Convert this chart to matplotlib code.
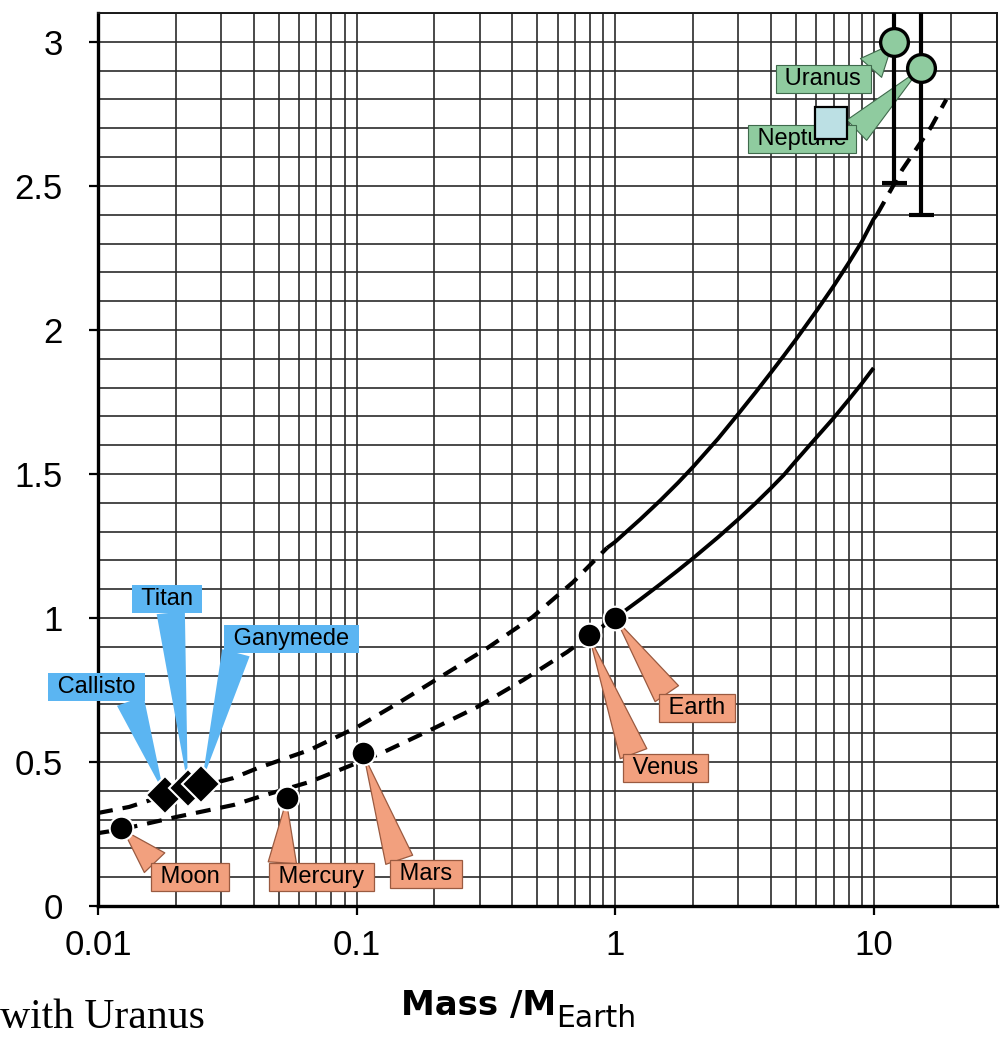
import matplotlib
matplotlib.use("Agg")
import matplotlib.pyplot as plt
from matplotlib.ticker import FixedLocator, MultipleLocator, NullFormatter

# rocky bodies: mass (Earth masses) and size (Earth units)
rocky_names = ["Moon", "Mercury", "Mars", "Venus", "Earth"]
rocky_mass = [0.0123, 0.0536, 0.106, 0.79, 1.0]
rocky_size = [0.271, 0.375, 0.531, 0.941, 1.0]

# icy moons
icy_names = ["Callisto", "Titan", "Ganymede"]
icy_mass = [0.0181, 0.0223, 0.0251]
icy_size = [0.385, 0.41, 0.424]

# ice giants with uncertainty
giant_names = ["Uranus", "Neptune"]
giant_mass = [12.0, 15.3]
giant_size = [3.0, 2.91]
giant_err = [0.49, 0.51]

# extra point
box_mass = [6.84]
box_size = [2.72]

# upper model curve
upper_dash_x = [0.01, 0.0132, 0.018, 0.025, 0.0333, 0.0415, 0.051, 0.066, 0.082, 0.101,
                0.147, 0.211, 0.321, 0.479, 0.689, 0.93]
upper_dash_y = [0.323, 0.344, 0.383, 0.415, 0.444, 0.479, 0.507, 0.542, 0.583, 0.622,
                0.708, 0.795, 0.896, 1.003, 1.125, 1.243]
upper_solid_x = [0.93, 1, 1.25, 1.5, 1.75, 2, 2.5, 3, 3.5, 4, 4.5, 5, 6, 7, 8, 9, 10, 10.3]
upper_solid_y = [1.243, 1.264, 1.342, 1.409, 1.469, 1.524, 1.622, 1.709, 1.784, 1.851,
                 1.911, 1.966, 2.065, 2.152, 2.232, 2.306, 2.385, 2.40]
upper_tail_x = [10.3, 12.9, 16.7, 19.1]
upper_tail_y = [2.40, 2.556, 2.705, 2.80]

# lower model curve
lower_dash_x = [0.01, 0.0123, 0.0203, 0.0335, 0.042, 0.066, 0.082, 0.125, 0.193, 0.293,
                0.442, 0.653, 0.80, 1.0]
lower_dash_y = [0.253, 0.266, 0.310, 0.351, 0.379, 0.431, 0.465, 0.531, 0.611, 0.691,
                0.785, 0.882, 0.941, 1.0]
lower_solid_x = [1, 1.25, 1.5, 1.75, 2, 2.5, 3, 3.5, 4, 4.5, 5, 6, 7, 8, 9, 10]
lower_solid_y = [1.0, 1.064, 1.118, 1.165, 1.207, 1.28, 1.343, 1.399, 1.45, 1.497, 1.545,
                 1.626, 1.694, 1.757, 1.814, 1.868]

x_ticks = [0.01, 0.1, 1, 10]
x_labels = ["0.01", "0.1", "1", "10"]
y_ticks = [0, 0.5, 1, 1.5, 2, 2.5, 3]
y_labels = ["0", "0.5", "1", "1.5", "2", "2.5", "3"]

SALMON, SALMON_EC = "#F2A07E", "#9A5A40"
BLUE = "#5BB5F2"
GREEN, GREEN_EC = "#8FCB9F", "#3F6A4C"

fig = plt.figure(figsize=(10.04, 10.37), dpi=100)
ax = fig.add_axes([0.0976, 0.1263, 0.8954, 0.8611])
ax.set_xscale("log")
ax.set_xlim(0.01, 30)
ax.set_ylim(0, 3.1)

# grid
ax.set_axisbelow(True)
ax.xaxis.set_major_locator(FixedLocator(x_ticks))
ax.xaxis.set_minor_locator(FixedLocator([m * d for d in (0.01, 0.1, 1, 10) for m in range(2, 10)]))
ax.xaxis.set_minor_formatter(NullFormatter())
ax.yaxis.set_major_locator(FixedLocator(y_ticks))
ax.yaxis.set_minor_locator(MultipleLocator(0.1))
ax.set_xticklabels(x_labels)
ax.set_yticklabels(y_labels)
ax.grid(which="both", color="#2a2a2a", lw=1.2)

for lab in ax.get_xticklabels() + ax.get_yticklabels():
    lab.set_family("Liberation Sans")
    lab.set_fontsize(25)
ax.tick_params(which="major", length=6.5, width=1.6, color="black")
ax.tick_params(which="minor", length=0)
ax.tick_params(axis="x", pad=10)
ax.tick_params(axis="y", pad=19)

for side in ("left", "bottom"):
    ax.spines[side].set_linewidth(2.4)
    ax.spines[side].set_color("black")
for side in ("top", "right"):
    ax.spines[side].set_linewidth(1.4)
    ax.spines[side].set_color("#1a1a1a")

# model curves
dash = (0, (3.6, 2.4))
ax.plot(upper_dash_x, upper_dash_y, color="black", lw=3, ls=dash, zorder=2)
ax.plot(upper_solid_x, upper_solid_y, color="black", lw=2.8, zorder=2, solid_capstyle="butt")
ax.plot(upper_tail_x, upper_tail_y, color="black", lw=3, ls=dash, zorder=2)
ax.plot(lower_dash_x, lower_dash_y, color="black", lw=3, ls=dash, zorder=2)
ax.plot(lower_solid_x, lower_solid_y, color="black", lw=2.8, zorder=2, solid_capstyle="butt")


def callout(name, xy, off, rel, fc, ec, lw):
    ax.annotate(" " + name + " ", xy=xy, xytext=off, textcoords="offset pixels",
                ha="center", va="center", fontsize=17, family="Liberation Sans",
                bbox=dict(boxstyle="square,pad=0.12", fc=fc, ec=ec, lw=lw),
                arrowprops=dict(arrowstyle="wedge,tail_width=1.2,shrink_factor=0.5",
                                fc=fc, ec=ec, lw=lw, relpos=rel, shrinkA=0, shrinkB=2),
                zorder=3)


rocky_off = [(69, -49), (35, -79), (63, -121), (77, -133), (82, -90)]
rocky_rel = [(0.08, 0.9), (0.1, 0.9), (0.12, 0.9), (0.12, 0.9), (0.12, 0.9)]
for n, m, s, o, r in zip(rocky_names, rocky_mass, rocky_size, rocky_off, rocky_rel):
    callout(n, (m, s), o, r, SALMON, SALMON_EC, 0.9)

icy_off = [(-68, 108), (-21, 189), (90, 145)]
icy_rel = [(0.85, 0.1), (0.55, 0.1), (0.08, 0.1)]
for n, m, s, o, r in zip(icy_names, icy_mass, icy_size, icy_off, icy_rel):
    callout(n, (m, s), o, r, BLUE, "none", 0)

giant_off = [(-71, -37), (-119, -71)]
giant_rel = [(0.95, 0.6), (0.9, 0.3)]
for n, m, s, o, r in zip(giant_names, giant_mass, giant_size, giant_off, giant_rel):
    callout(n, (m, s), o, r, GREEN, GREEN_EC, 0.8)

# error bars and markers
ax.errorbar(giant_mass, giant_size, yerr=giant_err, fmt="none", ecolor="black",
            elinewidth=3, capsize=9, capthick=3, zorder=4)
ax.plot(giant_mass, giant_size, "o", ms=20, mfc=GREEN, mec="black", mew=2.4, zorder=5)
ax.plot(rocky_mass, rocky_size, "o", ms=17, mfc="black", mec="white", mew=1.5, zorder=5)
for m, s in zip(icy_mass, icy_size):
    ax.plot([m], [s], "D", ms=19, mfc="black", mec="white", mew=1.5, zorder=5)
ax.plot(box_mass, box_size, "s", ms=23, mfc="#BCE0E4", mec="black", mew=1.6, zorder=6)

# axis title and caption
fig.text(0.5538, 0.0212, "Mass /M", ha="right", va="baseline", fontsize=24.5,
         fontweight="bold", family="DejaVu Sans")
fig.text(0.5538, 0.0096, "Earth", ha="left", va="baseline", fontsize=21.5,
         family="DejaVu Sans")
fig.text(0.0, 0.0087, "with Uranus", ha="left", va="baseline", fontsize=30,
         family="Liberation Serif")

fig.savefig("out.png", dpi=100)
